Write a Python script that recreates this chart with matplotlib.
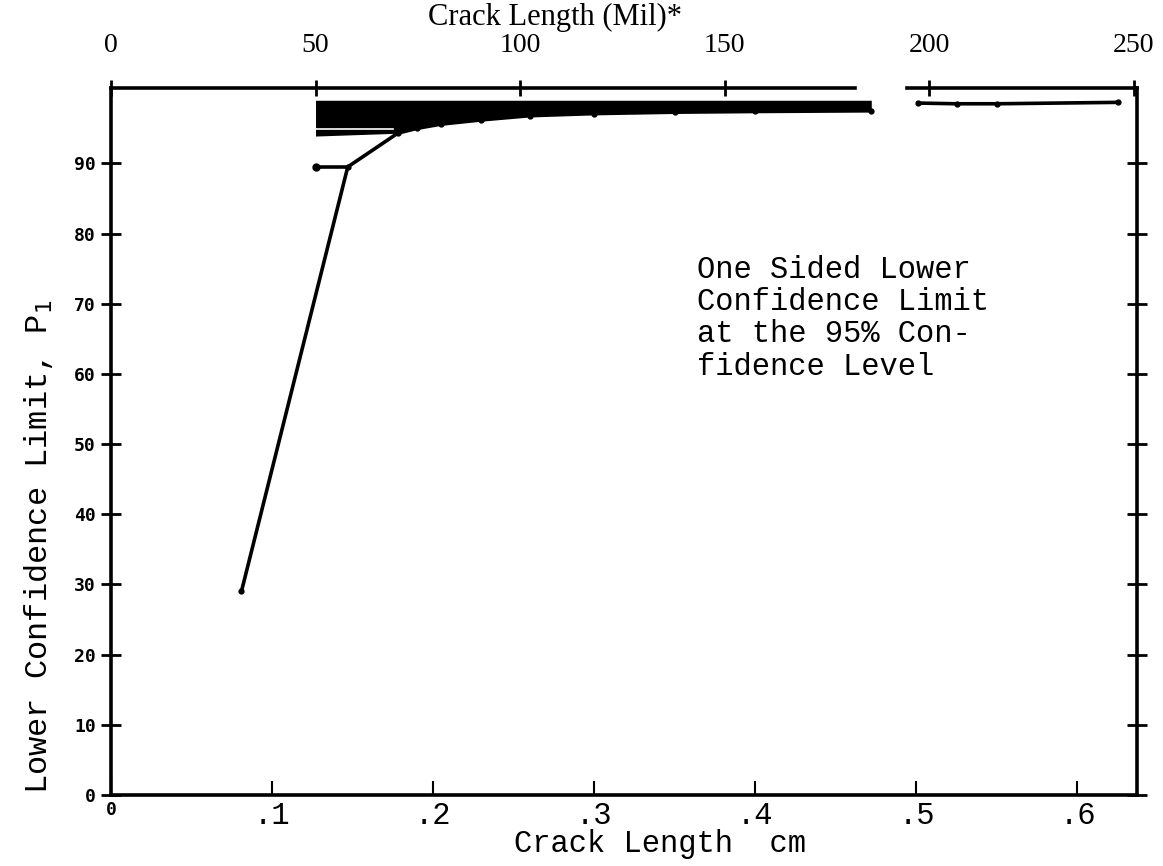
import numpy as np
import matplotlib
matplotlib.use('Agg')
import matplotlib.pyplot as plt

# curva principal (comprimento da trinca em cm, limite inferior P1 em %)
crack_cm = [0.081, 0.147, 0.178, 0.190, 0.205, 0.230, 0.260, 0.300, 0.350, 0.400, 0.472]
p1 = [29.0, 89.5, 94.3, 95.0, 95.6, 96.2, 96.8, 97.1, 97.3, 97.4, 97.5]

# trecho depois da quebra
crack2_cm = [0.501, 0.525, 0.550, 0.625]
p1_2 = [98.6, 98.5, 98.5, 98.7]

# faixa hachurada (muitas linhas sobrepostas)
band_x = [0.127, 0.178, 0.190, 0.205, 0.230, 0.260, 0.300, 0.350, 0.400, 0.472]
band_lo = [93.9, 94.3, 95.0, 95.6, 96.2, 96.8, 97.1, 97.3, 97.4, 97.5]
band_hi = [99.0, 99.0, 99.0, 99.0, 99.0, 99.0, 99.0, 99.0, 99.0, 99.0]
white_x = [0.127, 0.175]
white_p = [94.9, 94.9]
step_x = [0.127, 0.147]
step_p = [89.5, 89.5]

x_ticks = [0, 0.1, 0.2, 0.3, 0.4, 0.5, 0.6]
x_labels = ['0', '.1', '.2', '.3', '.4', '.5', '.6']
y_ticks = [0, 10, 20, 30, 40, 50, 60, 70, 80, 90]
mil_ticks = [0, 50, 100, 150, 200, 250]
top_break = (0.462, 0.494)

mono = 'Liberation Mono'
lw = 2.6

fig = plt.figure(figsize=(11.63, 8.66), dpi=100)
ax = fig.add_axes([0.0954, 0.082, 0.8823, 0.816])

ax.fill_between(band_x, band_lo, band_hi, color='black', lw=0)
ax.plot(white_x, white_p, color='white', lw=1.2)
ax.plot(crack_cm, p1, color='black', lw=lw, marker='o', ms=3.5)
ax.plot(crack2_cm, p1_2, color='black', lw=lw, marker='o', ms=3.5)
ax.plot(step_x, step_p, color='black', lw=lw, marker='o', ms=5, markevery=[0])

ax.set_xlim(0, 0.637)
ax.set_ylim(0, 100.7)

ax.set_xticks(x_ticks)
ax.set_xticklabels(x_labels, family=mono, fontsize=22)
ax.set_yticks(y_ticks)
ax.set_yticklabels([str(v) for v in y_ticks], family='DejaVu Sans Mono',
                   fontsize=13, fontweight='bold')
xl = ax.get_xticklabels()
xl[0].set_fontproperties({'family': 'DejaVu Sans Mono', 'size': 13, 'weight': 'bold'})

ax.tick_params(axis='x', direction='in', length=10, width=1.5, pad=4)
ax.tick_params(axis='y', direction='inout', length=14, width=2, pad=4,
               right=True, left=True)

for s in ['left', 'right', 'bottom']:
    ax.spines[s].set_linewidth(lw)
ax.spines['top'].set_visible(False)

# borda superior com a quebra
trans = ax.get_xaxis_transform()
ax.plot([0, top_break[0]], [1, 1], transform=trans, color='black', lw=lw, clip_on=False)
ax.plot([top_break[1], 0.637], [1, 1], transform=trans, color='black', lw=lw, clip_on=False)

# eixo superior em mils
def cm_to_mil(x):
    return x / 0.00254

def mil_to_cm(x):
    return x * 0.00254

ax2 = ax.secondary_xaxis('top', functions=(cm_to_mil, mil_to_cm))
ax2.set_xticks(mil_ticks)
ax2.set_xticklabels([str(v) for v in mil_ticks], family='Liberation Serif', fontsize=20)
ax2.tick_params(direction='inout', length=12, width=2, pad=16)
ax2.spines['top'].set_visible(False)

# titulos dos eixos
ax.text(0.433, 1.100, 'Crack Length (Mil)*', transform=ax.transAxes,
        family='Liberation Serif', fontsize=22, ha='center', va='center')
ax.text(0.535, -0.070, 'Crack Length  cm', transform=ax.transAxes,
        family=mono, fontsize=22, ha='center', va='center')
ax.text(-0.071, 0.352, 'Lower Confidence Limit, P$_1$', transform=ax.transAxes,
        family=mono, fontsize=23, ha='center', va='center', rotation=90)

ax.text(0.364, 77, 'One Sided Lower\nConfidence Limit\nat the 95% Con-\nfidence Level',
        family=mono, fontsize=22, va='top', ha='left', linespacing=1.1)

fig.savefig('out.png', dpi=100)
